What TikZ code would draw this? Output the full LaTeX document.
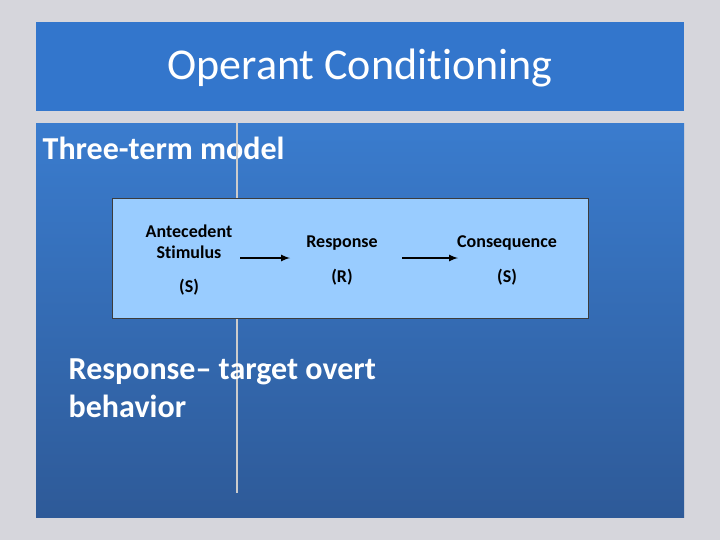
\documentclass[tikz,border=0pt]{standalone}
\usepackage{fontspec}
\setmainfont[Ligatures=NoCommon]{Carlito}
\begin{document}
\begin{tikzpicture}[x=0.75pt,y=-0.75pt,
  lbl/.style={font=\bfseries\fontsize{13.5}{16}\selectfont,align=center,text=black},
  arr/.style={-latex,line width=1.3pt}]
\useasboundingbox (0,0) rectangle (720,540);
\fill[blue!8!gray!30] (0,0) rectangle (720,540);
\fill[color={rgb,255:red,51;green,118;blue,204}] (36,22) rectangle (684,111);
\shade[top color={rgb,255:red,58;green,124;blue,206},bottom color={rgb,255:red,46;green,90;blue,152}] (36,123) rectangle (684,517);
\node (title) at (360,68) {\color{white}\fontsize{33}{38}\selectfont Operant Conditioning};
\node[anchor=west,text=white,font=\bfseries\fontsize{24}{28}\selectfont] (sub) at (38,148) {Three-term model};
\draw[gray!40,line width=0.8pt] (237,123) -- (237,493);
\node[draw={rgb,255:red,60;green,60;blue,60},fill={rgb,255:red,153;green,204;blue,255},minimum width=357pt,minimum height=90pt,inner sep=0] (box) at (350,258) {};
\node[lbl] (ant) at (189,242) {Antecedent\\Stimulus};
\node[lbl] (s1) at (189,287) {(S)};
\node[lbl] (resp) at (342,243) {Response};
\node[lbl] (r) at (342,277) {(R)};
\node[lbl] (cons) at (507,243) {Consequence};
\node[lbl] (s2) at (507,277) {(S)};
\coordinate (a1) at (240,258); \coordinate (a2) at (290,258);
\coordinate (b1) at (402,258); \coordinate (b2) at (458,258);
\draw[arr] (a1) -- (a2);
\draw[arr] (b1) -- (b2);
\node[anchor=north west,align=left,text=white,font=\bfseries\fontsize{24}{28.5}\selectfont] (note) at (64,354) {Response-- target overt\\behavior};
\end{tikzpicture}
\end{document}
